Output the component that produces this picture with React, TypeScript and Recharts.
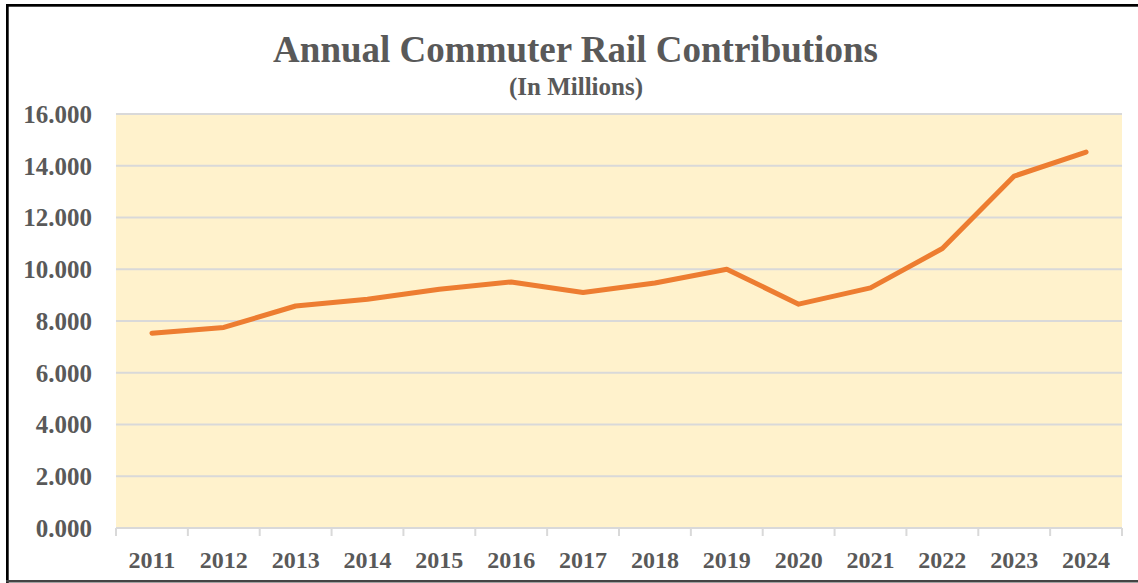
import React from "react";
import { LineChart, Line, XAxis, YAxis, CartesianGrid } from "recharts";

const years = ["2011", "2012", "2013", "2014", "2015", "2016", "2017", "2018", "2019", "2020", "2021", "2022", "2023", "2024"];
const contributions = [7.53, 7.75, 8.58, 8.84, 9.23, 9.51, 9.1, 9.47, 10.0, 8.65, 9.28, 10.8, 13.6, 14.53];
const yTicks = [0, 2, 4, 6, 8, 10, 12, 14, 16];
const title = "Annual Commuter Rail Contributions";
const subtitle = "(In Millions)";

const data = years.map((y, i) => ({ year: y, value: contributions[i] }));

const W = 1138;
const H = 583;
const MARGIN = { top: 114, right: 16, bottom: 10, left: 0 };
const Y_AXIS_W = 116;
const X_AXIS_H = 45;
const PLOT_W = W - MARGIN.left - MARGIN.right - Y_AXIS_W;
const BAND = PLOT_W / years.length;

const FONT = "'Liberation Serif', 'Times New Roman', serif";
const TEXT = "#595959";
const GRID = "#D9D9D9";

const XTick = (props: any) => {
  const { x, y, payload, index } = props;
  const left = x - BAND / 2;
  const right = x + BAND / 2;
  return (
    <g>
      <line x1={left} x2={left} y1={y} y2={y + 8} stroke={GRID} strokeWidth={2} />
      {index === years.length - 1 && (
        <line x1={right} x2={right} y1={y} y2={y + 8} stroke={GRID} strokeWidth={2} />
      )}
      <text
        x={x}
        y={y + 40}
        textAnchor="middle"
        fill={TEXT}
        fontFamily={FONT}
        fontWeight="bold"
        fontSize={24}
      >
        {payload.value}
      </text>
    </g>
  );
};

export default function App() {
  return (
    <div style={{ position: "absolute", left: 0, top: 0, width: W, height: H, background: "#fff" }}>
      <LineChart width={W} height={H} data={data} margin={MARGIN}>
        <CartesianGrid
          vertical={false}
          stroke={GRID}
          strokeWidth={2}
          fill="#FFF2CC"
          fillOpacity={1}
        />
        <XAxis
          dataKey="year"
          height={X_AXIS_H}
          padding={{ left: BAND / 2, right: BAND / 2 }}
          axisLine={false}
          tickLine={false}
          tickSize={0}
          tickMargin={0}
          interval={0}
          tick={<XTick />}
        />
        <YAxis
          width={Y_AXIS_W}
          domain={[0, 16]}
          ticks={yTicks}
          interval={0}
          axisLine={false}
          tickLine={false}
          tickSize={0}
          tickMargin={24}
          tickFormatter={(v: number) => v.toFixed(3)}
          tick={{ fill: TEXT, fontFamily: FONT, fontWeight: "bold", fontSize: 25 }}
        />
        <Line
          type="linear"
          dataKey="value"
          stroke="#ED7D31"
          strokeWidth={5}
          strokeLinejoin="round"
          strokeLinecap="round"
          dot={false}
          activeDot={false}
          isAnimationActive={false}
        />
      </LineChart>
      <svg
        width={W}
        height={H}
        style={{ position: "absolute", left: 0, top: 0, pointerEvents: "none" }}
      >
        <text
          x={575.5}
          y={62}
          textAnchor="middle"
          fill={TEXT}
          fontFamily={FONT}
          fontWeight="bold"
          fontSize={37}
        >
          {title}
        </text>
        <text
          x={576}
          y={95}
          textAnchor="middle"
          fill={TEXT}
          fontFamily={FONT}
          fontWeight="bold"
          fontSize={25}
        >
          {subtitle}
        </text>
        <rect x={6} y={4} width={W} height={2.7} fill="#000" />
        <rect x={6} y={4} width={2.7} height={H} fill="#000" />
        <rect x={6} y={580} width={W} height={2.5} fill="#444" />
      </svg>
    </div>
  );
}
